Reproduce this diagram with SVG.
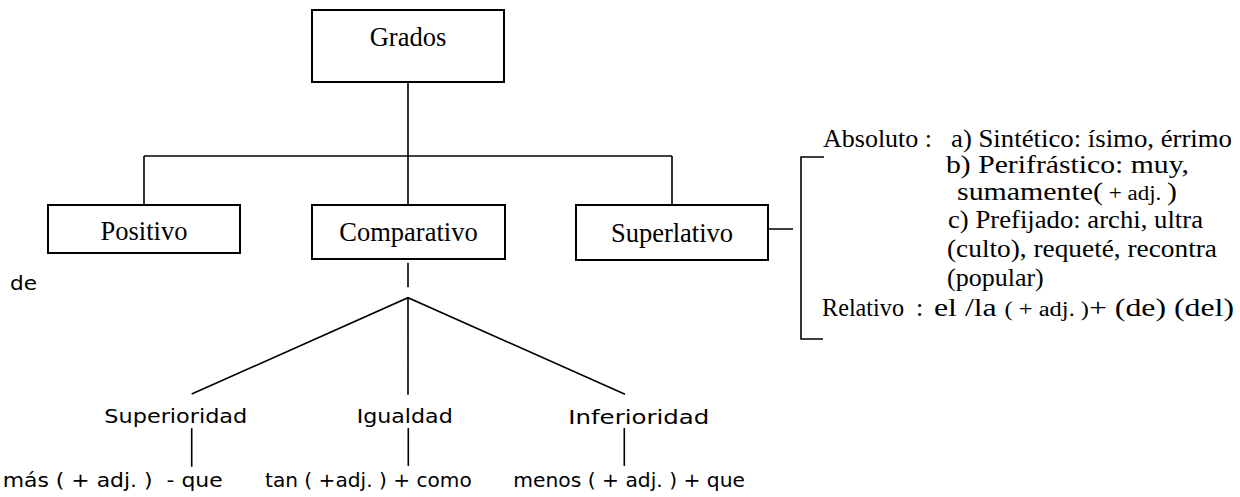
<svg xmlns="http://www.w3.org/2000/svg" width="1240" height="497" viewBox="0 0 1240 497">
<style>
.box{fill:#fff;stroke:#000;stroke-width:2}
.ln{fill:none;stroke:#000;stroke-width:1.6}
.lbl{font-family:"Liberation Serif","Times New Roman",serif;font-size:26.5px;fill:#000;text-anchor:middle}
.ser{font-family:"Liberation Serif","Times New Roman",serif;font-size:26px;fill:#000}
.sm{font-size:20px}
.cs{font-family:"DejaVu Sans","Noto Sans",sans-serif;font-size:19.5px;fill:#000}
</style>
<rect width="1240" height="497" fill="#fff"/>
<g id="connectors">
<path class="ln" d="M408 82V205M144 156H672M144 156V205M672 156V205"/>
<path class="ln" d="M768 229H793M824 157H801V339H823"/>
<path class="ln" d="M408 262.7V287.3"/>
<path class="ln" d="M191.7 394L408 297.7L625 394.3M408 297.7V394.7"/>
<path class="ln" d="M191.7 428.3V466.7M408.3 428V466M624.3 428V466"/>
</g>
<g id="grados"><rect class="box" x="312" y="10" width="192" height="72"/><text class="lbl" x="408" y="45.7">Grados</text></g>
<g id="positivo"><rect class="box" x="48" y="205" width="192" height="48"/><text class="lbl" x="144" y="240">Positivo</text></g>
<g id="comparativo"><rect class="box" x="312" y="205" width="193" height="54"/><text class="lbl" x="408.5" y="240.7">Comparativo</text></g>
<g id="superlativo"><rect class="box" x="576" y="205" width="192" height="55"/><text class="lbl" x="672" y="242.3">Superlativo</text></g>
<g id="superlativo-detalle">
<text class="ser" x="823" y="146.5">Absoluto :</text>
<text class="ser" x="951" y="146.5" textLength="281" lengthAdjust="spacingAndGlyphs">a) Sintético: ísimo, érrimo</text>
<text class="ser" x="946" y="173" textLength="243" lengthAdjust="spacingAndGlyphs">b) Perifrástico: muy,</text>
<text class="ser" x="957" y="200" textLength="220" lengthAdjust="spacingAndGlyphs">sumamente(<tspan class="sm"> + adj. </tspan>)</text>
<text class="ser" x="948" y="228" textLength="255" lengthAdjust="spacingAndGlyphs">c) Prefijado: archi, ultra</text>
<text class="ser" x="947" y="257" textLength="270" lengthAdjust="spacingAndGlyphs">(culto), requeté, recontra</text>
<text class="ser" x="947" y="286">(popular)</text>
<text class="ser" x="822" y="316" textLength="82" lengthAdjust="spacingAndGlyphs">Relativo</text>
<text class="ser" x="916" y="316">:</text>
<text class="ser" x="934" y="316" textLength="300" lengthAdjust="spacingAndGlyphs">el /la <tspan class="sm">( + adj. )</tspan>+ (de) (del)</text>
</g>
<g id="de"><text class="cs" x="10" y="290" textLength="27" lengthAdjust="spacingAndGlyphs">de</text></g>
<g id="superioridad"><text class="cs" x="104.3" y="423" textLength="143" lengthAdjust="spacingAndGlyphs">Superioridad</text></g>
<g id="igualdad"><text class="cs" x="356.7" y="423" textLength="96" lengthAdjust="spacingAndGlyphs">Igualdad</text></g>
<g id="inferioridad"><text class="cs" x="568.3" y="424" textLength="141" lengthAdjust="spacingAndGlyphs">Inferioridad</text></g>
<g id="mas"><text class="cs" x="2.7" y="487" textLength="220" lengthAdjust="spacingAndGlyphs" style="white-space:pre">más ( + adj. )  - que</text></g>
<g id="tan"><text class="cs" x="265" y="487" textLength="206.7" lengthAdjust="spacingAndGlyphs">tan ( +adj. ) + como</text></g>
<g id="menos"><text class="cs" x="513.3" y="487" textLength="231.7" lengthAdjust="spacingAndGlyphs">menos ( + adj. ) + que</text></g>
</svg>
